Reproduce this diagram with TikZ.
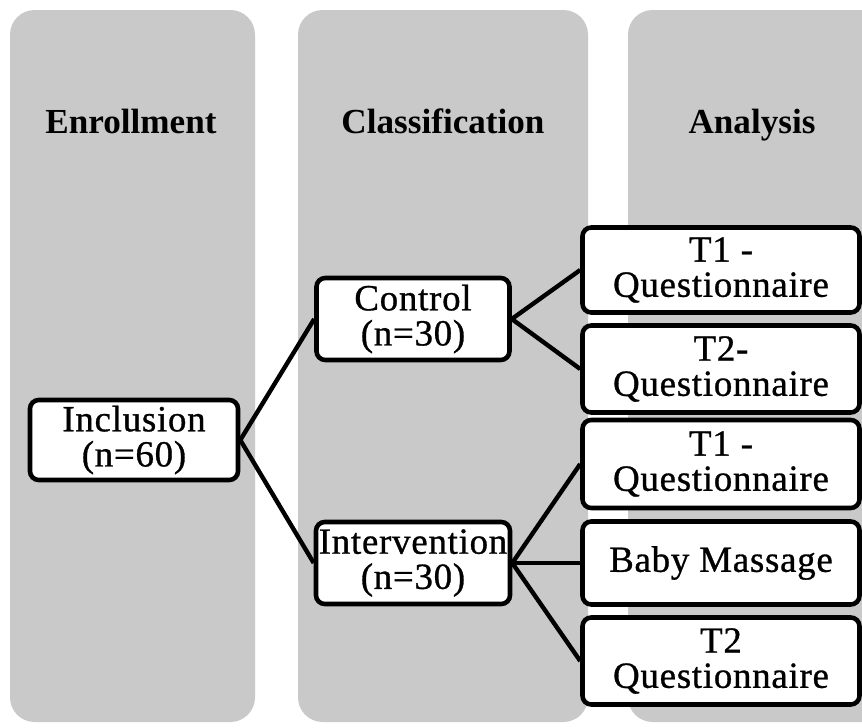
\documentclass[tikz,border=0pt]{standalone}
\usepackage{fontspec}
\setmainfont{Liberation Serif}
\newfontfamily\boxfont[FakeBold=0.8, LetterSpace=2]{Liberation Serif}
\tikzset{
  panel/.style={fill=black!21, draw=none, rounded corners=14pt},
  heading/.style={font=\fontsize{20}{22}\selectfont\bfseries, text height=14pt, text depth=4pt},
  box/.style={draw, line width=2.6pt, fill=white, rounded corners=5pt, align=center,
    inner sep=0pt, font=\boxfont\fontsize{21}{20}\selectfont},
  link/.style={line width=2.5pt}
}
\begin{document}
\begin{tikzpicture}[x=0.02cm, y=-0.02cm]
    \useasboundingbox (0,0) rectangle (862,727);
    \clip (0,0) rectangle (862,727);

    % Background columns
    \fill[panel] (10,10) rectangle (255,722);
    \fill[panel] (298,10) rectangle (588,722);
    \fill[panel] (628,10) rectangle (890,722);

    % Column headings
    \node[heading] (enroll) at (131,125) {Enrollment};
    \node[heading] (classif) at (443,125) {Classification};
    \node[heading] (analysis) at (752,125) {Analysis};

    % Boxes
    \node[box, minimum width=208*0.02cm, minimum height=80*0.02cm] (incl) at (134,440) {Inclusion\\(n=60)};
    \node[box, minimum width=193*0.02cm, minimum height=82*0.02cm] (ctrl) at (413,319) {Control\\(n=30)};
    \node[box, minimum width=194*0.02cm, minimum height=82*0.02cm] (interv) at (413,563) {Intervention\\(n=30)};

    \node[box, minimum width=277*0.02cm, minimum height=85*0.02cm] (ctone) at (721,270) {T1 -\\Questionnaire};
    \node[box, minimum width=277*0.02cm, minimum height=87*0.02cm] (cttwo) at (721,369) {T2-\\Questionnaire};
    \node[box, minimum width=277*0.02cm, minimum height=88*0.02cm] (itone) at (721,464) {T1 -\\Questionnaire};
    \node[box, minimum width=277*0.02cm, minimum height=83*0.02cm] (massage) at (721,563) {Baby Massage};
    \node[box, minimum width=277*0.02cm, minimum height=87*0.02cm] (ittwo) at (721,661) {T2\\Questionnaire};

    % Connectors
    \draw[link] (incl.east) -- (ctrl.west);
    \draw[link] (incl.east) -- (interv.west);
    \draw[link] (ctrl.east) -- (ctone.west);
    \draw[link] (ctrl.east) -- (cttwo.west);
    \draw[link] (interv.east) -- (itone.west);
    \draw[link] (interv.east) -- (massage.west);
    \draw[link] (interv.east) -- (ittwo.west);
\end{tikzpicture}
\end{document}
